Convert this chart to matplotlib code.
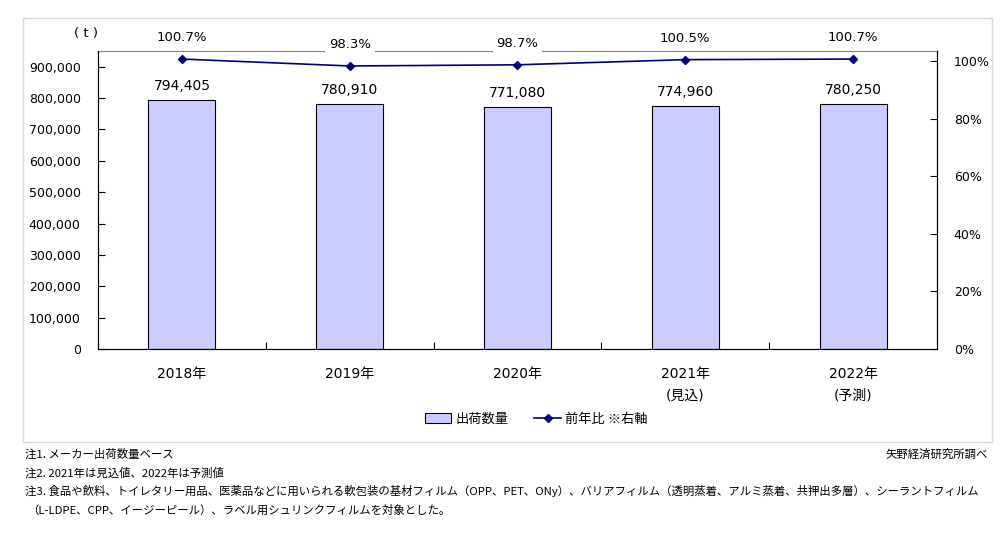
import numpy as np
import matplotlib
matplotlib.use('Agg')
import matplotlib.pyplot as plt
from matplotlib.patches import Rectangle, Patch
from matplotlib.lines import Line2D
from matplotlib.ticker import FuncFormatter, FixedLocator

plt.rcParams['font.family'] = ['DejaVu Sans', 'Noto Sans CJK JP']

# data
years = ['2018年', '2019年', '2020年', '2021年\n(見込)', '2022年\n(予測)']
volume = [794405, 780910, 771080, 774960, 780250]
yoy = [1.007, 0.983, 0.987, 1.005, 1.007]
yoy_labels = ['100.7%', '98.3%', '98.7%', '100.5%', '100.7%']
left_ticks = [0, 100000, 200000, 300000, 400000, 500000, 600000, 700000, 800000, 900000]
right_ticks = [0, 0.2, 0.4, 0.6, 0.8, 1.0]
notes = ['注1. メーカー出荷数量ベース',
         '注2. 2021年は見込値、2022年は予測値',
         '注3. 食品や飲料、トイレタリー用品、医薬品などに用いられる軟包装の基材フィルム（OPP、PET、ONy）、バリアフィルム（透明蒸着、アルミ蒸着、共押出多層）、シーラントフィルム',
         '（L-LDPE、CPP、イージーピール）、ラベル用シュリンクフィルムを対象とした。']
source = '矢野経済研究所調べ'

W, H = 1008, 559
fig = plt.figure(figsize=(W / 100, H / 100), dpi=100)

# outer chart frame
fig.patches.append(Rectangle((23 / W, 1 - 442 / H), (992 - 23) / W, (442 - 18) / H,
                             transform=fig.transFigure, fill=False,
                             edgecolor='#d9d9d9', lw=1))

ax = fig.add_axes([98 / W, 1 - 349 / H, (937 - 98) / W, (349 - 51) / H])
x = np.arange(len(years))
bars = ax.bar(x, volume, width=0.4, color='#ccccff', edgecolor='black', lw=0.8, zorder=2)
ax.set_xlim(-0.5, len(years) - 0.5)
ax.set_ylim(0, 950000)
ax.set_yticks(left_ticks)
ax.yaxis.set_major_formatter(FuncFormatter(lambda v, p: f'{int(v):,}'))
ax.tick_params(axis='y', direction='in', length=5, labelsize=9, pad=12.5)
for v, b in zip(volume, bars):
    ax.annotate(f'{v:,}', (b.get_x() + b.get_width() / 2, v), xytext=(0, 10),
                textcoords='offset points', ha='center', va='center', fontsize=10)

# x axis: ticks at boundaries, labels at centers
ax.xaxis.set_major_locator(FixedLocator(np.arange(0.5, len(years) - 0.5, 1)))
ax.xaxis.set_major_formatter(FuncFormatter(lambda v, p: ''))
ax.xaxis.set_minor_locator(FixedLocator(x))
ax.set_xticklabels(years, minor=True, fontsize=10, linespacing=1.7)
ax.tick_params(axis='x', which='major', direction='in', length=5)
ax.tick_params(axis='x', which='minor', length=0, pad=13)

ax.spines['top'].set_color('#808080')
for s in ['left', 'bottom', 'right']:
    ax.spines[s].set_color('black')

ax2 = ax.twinx()
ax2.plot(x, yoy, color='#000080', lw=1.2, marker='D', markersize=4.5, zorder=3)
ax2.set_ylim(0, 1.035)
ax2.set_yticks(right_ticks)
ax2.yaxis.set_major_formatter(FuncFormatter(lambda v, p: f'{v:.0%}'))
ax2.tick_params(axis='y', direction='in', length=5, labelsize=9, pad=12)
ax2.spines['top'].set_visible(False)
for xi, v, lab in zip(x, yoy, yoy_labels):
    ax2.annotate(lab, (xi, v), xytext=(0, 15.5), textcoords='offset points',
                 ha='center', va='center', fontsize=9.5, annotation_clip=False,
                 bbox=dict(boxstyle='square,pad=0.3', fc='white', ec='none'))

fig.text(86 / W, 1 - 33 / H, '( t )', ha='center', va='center', fontsize=9.5)

# legend
handles = [Patch(facecolor='#ccccff', edgecolor='black', lw=0.8, label='出荷数量'),
           Line2D([0], [0], color='#000080', lw=1.2, marker='D', markersize=4,
                  label='前年比 ※右軸')]
fig.legend(handles=handles, loc='center', bbox_to_anchor=(536 / W, 1 - 419 / H),
           ncol=2, frameon=False, handlelength=2.0, handleheight=0.8,
           handletextpad=0.3, columnspacing=2.0,
           prop={'family': ['Noto Sans CJK JP'], 'size': 9.5})

# notes
for i, n in enumerate(notes):
    xp = 25 if i < 3 else 27
    fig.text(xp / W, 1 - (454 + 18.7 * i) / H, n, ha='left', va='center',
             fontsize=8.2, family=['Noto Sans CJK JP'])
fig.text(988 / W, 1 - 454 / H, source, ha='right', va='center', fontsize=8.2,
         family=['Noto Sans CJK JP'])

fig.savefig('out.png', dpi=100)
